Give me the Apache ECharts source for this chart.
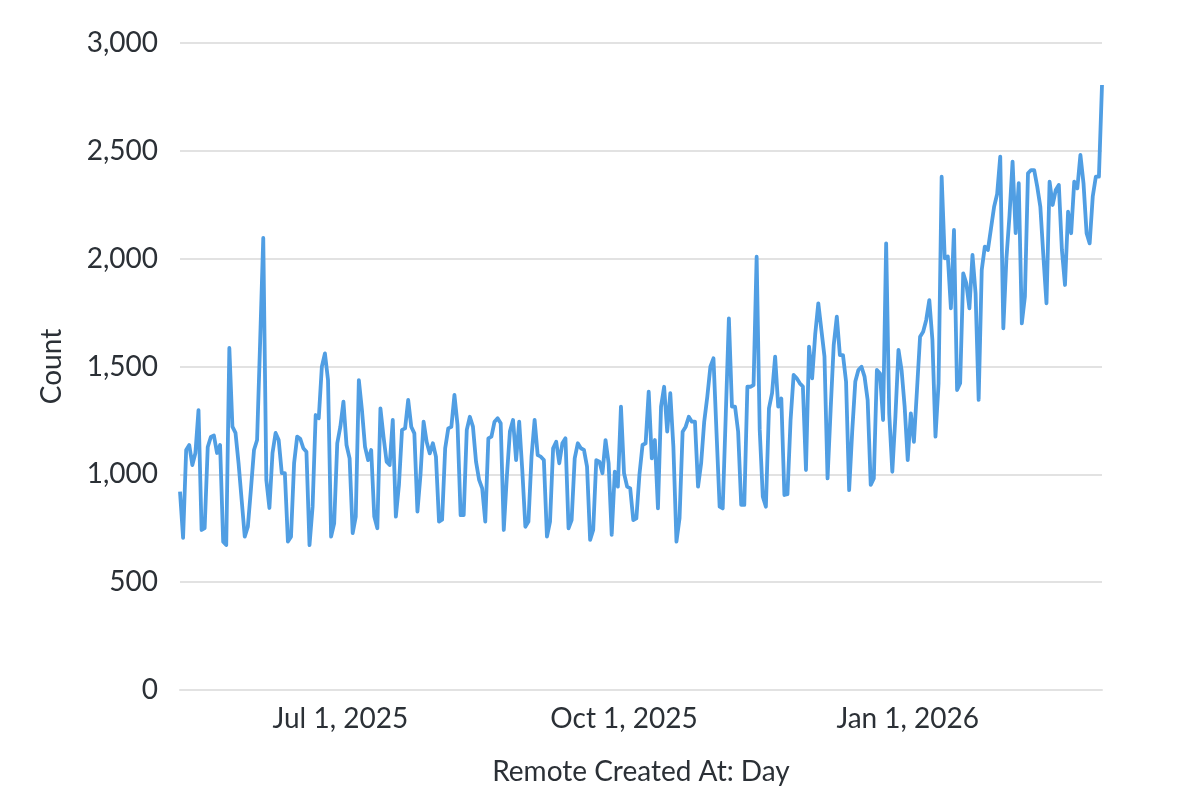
<!DOCTYPE html>
<html lang="en">
<head>
    <meta charset="UTF-8"/>
    <script src="https://cdn.jsdelivr.net/npm/echarts@6/dist/echarts.min.js"></script>
    <title>Count by Remote Created At: Day</title>
    <style>
        html, body { margin: 0; padding: 0; background: #fff; }
    </style>
</head>
<body>
<div id="main" style="width: 1200px;height:809px;"></div>
<script type="text/javascript">
    // first day of the series, one point per day
    var startDay = '2025-05-10';
    var monthNames = ['Jan','Feb','Mar','Apr','May','Jun','Jul','Aug','Sep','Oct','Nov','Dec'];
    // days that get a label on the x axis
    var tickDays = ['2025-07-01', '2025-10-01', '2026-01-01'];
    var yTicks = [0, 500, 1000, 1500, 2000, 2500, 3000];

    // daily counts, May 10 2025 .. Mar 5 2026
    var countsMayJun = [
        920, 705, 1113, 1136, 1043, 1099, 1298, 742, 751, 1127,
        1173, 1180, 1099, 1136, 688, 672, 1586, 1221, 1192, 1050,
        880, 711, 757, 930, 1113, 1159, 1620, 2096, 974, 844,
        1099, 1192, 1159, 1006, 1006, 688
    ];
    var countsJunJul = [
        711, 1051, 1175, 1165, 1121, 1105, 672, 850, 1275, 1260,
        1499, 1561, 1437, 711, 773, 1144, 1221, 1337, 1136, 1074,
        727, 804, 1437, 1298, 1128, 1066, 1113, 804, 750, 1306,
        1175, 1059, 1043, 1252, 804, 950
    ];
    var countsJulAug = [
        1206, 1213, 1345, 1221, 1190, 827, 1000, 1244, 1150, 1097,
        1144, 1082, 781, 790, 1121, 1213, 1220, 1368, 1229, 811,
        811, 1206, 1267, 1221, 1059, 974, 935, 781, 1167, 1175,
        1244, 1260, 1237, 742, 990, 1200
    ];
    var countsAugOct = [
        1252, 1066, 1244, 1020, 757, 781, 1082, 1252, 1089, 1082,
        1066, 711, 781, 1121, 1151, 1051, 1144, 1167, 750, 788,
        1074, 1144, 1121, 1113, 1036, 696, 742, 1066, 1059, 1005,
        1159, 1051, 719, 1012, 943, 1314, 1005, 943, 935, 788
    ];
    var countsOctNov = [
        796, 1000, 1136, 1144, 1383, 1074, 1159, 842, 1314, 1406,
        1198, 1376, 1128, 688, 796, 1198, 1221, 1267, 1244, 1244,
        943, 1051, 1244, 1360, 1499, 1538, 1190, 850, 842, 1280,
        1723, 1314, 1314, 1198, 858, 858
    ];
    var countsNovDec = [
        1406, 1406, 1414, 2009, 1206, 896, 850, 1306, 1376, 1546,
        1314, 1352, 904, 908, 1250, 1461, 1445, 1422, 1407, 1020,
        1592, 1445, 1650, 1793, 1669, 1546, 981, 1300, 1600, 1731,
        1553, 1553, 1430, 927, 1200, 1430, 1484, 1499
    ];
    var countsDecJan = [
        1453, 1345, 951, 981, 1484, 1468, 1252, 2071, 1280, 1012,
        1267, 1577, 1484, 1314, 1066, 1283, 1151, 1391, 1638, 1661,
        1716, 1808, 1623, 1175, 1422, 2380, 2002, 2010, 1770, 2133,
        1391, 1422, 1932, 1886, 1770, 2017, 1839, 1345
    ];
    var countsJanMar = [
        1948, 2056, 2040, 2140, 2240, 2300, 2473, 1677, 2000, 2200,
        2450, 2118, 2350, 1700, 1824, 2396, 2411, 2411, 2334, 2241,
        2009, 1793, 2357, 2249, 2318, 2342, 2040, 1878, 2218, 2118,
        2357, 2326, 2481, 2350, 2118, 2071, 2288, 2380, 2380, 2805
    ];

    var counts = [].concat(countsMayJun, countsJunJul, countsJulAug, countsAugOct,
        countsOctNov, countsNovDec, countsDecJan, countsJanMar);

    var days = [];
    var t0 = Date.parse(startDay + 'T00:00:00Z');
    for (var i = 0; i < counts.length; i++) {
        days.push(new Date(t0 + i * 86400000).toISOString().slice(0, 10));
    }

    function dayLabel(s) {
        var p = s.split('-');
        return monthNames[parseInt(p[1], 10) - 1] + ' ' + parseInt(p[2], 10) + ', ' + p[0];
    }

    var textColor = '#2b3036';
    var font = 'Lato, "Noto Sans", sans-serif';
    var fontSize = 28;

    var myChart = echarts.init(document.getElementById('main'));
    var option = {
        animation: false,
        textStyle: { fontFamily: font },
        grid: { left: 180, right: 98, top: 43, bottom: 119 },
        xAxis: {
            type: 'category',
            data: days,
            boundaryGap: false,
            name: 'Remote Created At: Day',
            nameLocation: 'middle',
            nameGap: 68,
            nameTextStyle: { fontFamily: font, fontSize: fontSize, color: textColor },
            axisLine: { show: true, lineStyle: { color: '#e2e2e2', width: 2 } },
            axisTick: { show: false },
            axisLabel: {
                interval: function (index, value) { return tickDays.indexOf(value) >= 0; },
                formatter: dayLabel,
                fontFamily: font, fontSize: fontSize, color: textColor, margin: 15
            },
            splitLine: { show: false }
        },
        yAxis: {
            type: 'value',
            min: yTicks[0],
            max: yTicks[yTicks.length - 1],
            interval: yTicks[1] - yTicks[0],
            name: 'Count',
            nameLocation: 'middle',
            nameGap: 114,
            nameTextStyle: { fontFamily: font, fontSize: fontSize, color: textColor },
            axisLine: { show: false },
            axisTick: { show: false },
            axisLabel: {
                formatter: function (v) { return v.toLocaleString('en-US'); },
                fontFamily: font, fontSize: fontSize, color: textColor, margin: 22
            },
            splitLine: { lineStyle: { color: '#e2e2e2', width: 2 } }
        },
        series: [{
            name: 'Count',
            type: 'line',
            data: counts,
            showSymbol: false,
            symbol: 'none',
            lineStyle: { color: '#509ee3', width: 3.8, join: 'round' },
            itemStyle: { color: '#509ee3' }
        }]
    };
    myChart.setOption(option);
</script>
</body>
</html>
